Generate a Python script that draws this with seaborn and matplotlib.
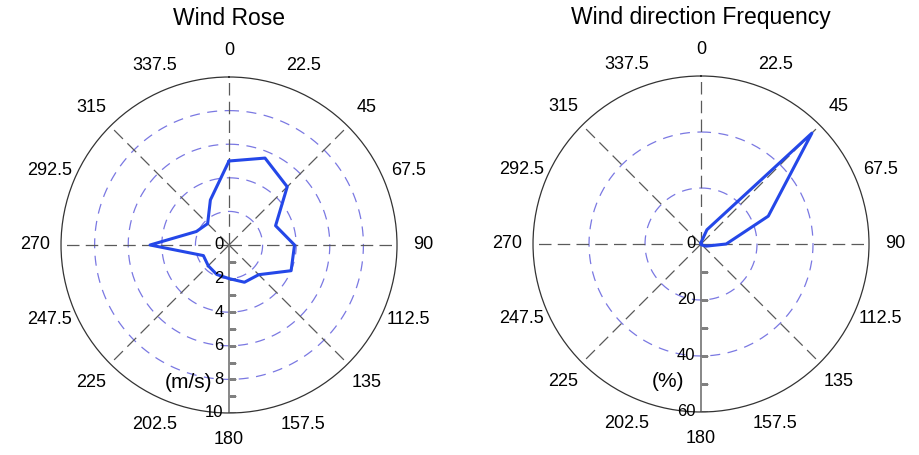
import numpy as np
import pandas as pd
import matplotlib
matplotlib.use('Agg')
import matplotlib.pyplot as plt
import matplotlib.markers as mmarkers
import seaborn as sns

# 16 compass directions (deg, clockwise from north)
directions = [0, 22.5, 45, 67.5, 90, 112.5, 135, 157.5,
              180, 202.5, 225, 247.5, 270, 292.5, 315, 337.5]
direction_labels = ['0', '22.5', '45', '67.5', '90', '112.5', '135', '157.5',
                    '180', '202.5', '225', '247.5', '270', '292.5', '315', '337.5']

# mean wind speed per direction (m/s)
wind_speed = [5.0, 5.6, 4.9, 3.0, 3.9, 4.0, 2.5, 2.4,
              2.0, 1.9, 1.75, 1.65, 4.7, 2.1, 1.8, 2.9]
# frequency per direction (%)
wind_freq = [0.5, 5.5, 56.0, 26.0, 9.0, 2.0, 0.5, 0.2,
             0.1, 0.0, 0.0, 0.0, 0.0, 0.0, 0.0, 0.2]

speed_ticks = [0, 2, 4, 6, 8, 10]
freq_ticks = [0, 20, 40, 60]

LINE_BLUE = '#2447e8'
RING_BLUE = '#7a78e2'
SPOKE_GREY = '#5a5a5a'

sns.set_style('white')
plt.rcParams['font.family'] = ['Liberation Sans', 'DejaVu Sans']
plt.rcParams['text.color'] = 'black'
plt.rcParams['xtick.color'] = 'black'


def draw_rose(ax, values, rticks, minor_step, unit, title):
    rmax = rticks[-1]
    df = pd.DataFrame({'theta': np.deg2rad(directions), 'r': values})
    # close the polygon
    df = pd.concat([df, df.iloc[[0]].assign(theta=2 * np.pi)], ignore_index=True)

    ax.set_theta_zero_location('N')
    ax.set_theta_direction(-1)
    ax.grid(False)

    # dashed rings
    ring = np.linspace(0, 2 * np.pi, 361)
    for r in rticks[1:-1]:
        ax.plot(ring, np.full_like(ring, r), color=RING_BLUE, lw=0.9, ls=(0, (8, 6)))

    # dashed spokes every 45 deg (180 is the radial axis)
    for a in range(0, 360, 45):
        if a == 180:
            continue
        ax.plot([np.deg2rad(a)] * 2, [0, rmax], color=SPOKE_GREY, lw=0.9, ls=(0, (10, 5)))

    # radial axis pointing down
    ax.plot([np.pi, np.pi], [0, rmax], color='0.45', lw=1.2)
    minor = np.arange(minor_step, rmax + minor_step / 2, minor_step)
    ax.plot(np.full_like(minor, np.pi), minor, ls='none', marker=mmarkers.TICKRIGHT,
            ms=5, mew=0.8, color='0.5')
    for r in rticks:
        ax.annotate(f'{r:g}', (np.pi, r), xytext=(-4, 0), textcoords='offset points',
                    ha='right', va='center', fontsize=12)
    ax.annotate(unit, (np.pi, rmax * 0.82), xytext=(-12, 0), textcoords='offset points',
                ha='right', va='center', fontsize=15)

    sns.lineplot(data=df, x='theta', y='r', ax=ax, color=LINE_BLUE, lw=2.2, sort=False)

    ax.set_xlabel('')
    ax.set_ylabel('')
    ax.set_yticks([])
    ax.set_ylim(0, rmax)
    ax.set_xticks(np.deg2rad(directions), direction_labels)
    ax.tick_params(axis='x', labelsize=13, pad=12, direction='in', length=4,
                   width=0.8, color='0.3', labelcolor='black')
    ax.spines['polar'].set_linewidth(0.9)
    ax.spines['polar'].set_color('0.2')
    ax.set_title(title, fontsize=16.5, y=1.13, color='black')


fig = plt.figure(figsize=(9.19, 4.55), dpi=100)
ax1 = fig.add_axes([0.0664, 0.0923, 0.3656, 0.7385], projection='polar')
ax2 = fig.add_axes([0.58, 0.0945, 0.3656, 0.7385], projection='polar')

draw_rose(ax1, wind_speed, speed_ticks, 1, '(m/s)', 'Wind Rose')
draw_rose(ax2, wind_freq, freq_ticks, 10, '(%)', 'Wind direction Frequency')

fig.savefig('out.png', dpi=100, facecolor='white')
